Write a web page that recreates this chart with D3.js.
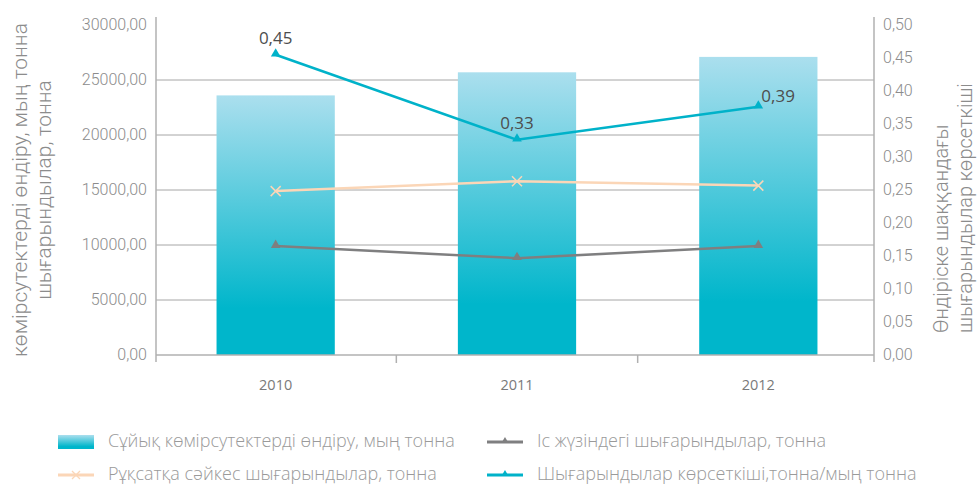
<!DOCTYPE html>
<html>
<head>
<meta charset="utf-8">
<script src="https://cdn.jsdelivr.net/npm/d3@7"></script>
<style>
  body { margin: 0; background: #fff; }
  svg { display: block; }
</style>
</head>
<body>
<div id="chart"></div>
<script>
// chart values
var years = ["2010", "2011", "2012"];
var production = [23600, 25700, 27100];      // Сұйық көмірсутектерді өндіру, мың тонна
var permitted = [14900, 15800, 15400];       // Рұқсатқа сәйкес шығарындылар, тонна
var actual = [9900, 8800, 9900];             // Іс жүзіндегі шығарындылар, тонна
var intensity = [0.455, 0.326, 0.376];       // Шығарындылар көрсеткіші
var intensityLabels = ["0,45", "0,33", "0,39"];
var leftTicks = [0, 5000, 10000, 15000, 20000, 25000, 30000];
var rightTicks = [0, 0.05, 0.1, 0.15, 0.2, 0.25, 0.3, 0.35, 0.4, 0.45, 0.5];
var legendNames = [
  "Сұйық көмірсутектерді өндіру, мың тонна",
  "Іс жүзіндегі шығарындылар, тонна",
  "Рұқсатқа сәйкес шығарындылар, тонна",
  "Шығарындылар көрсеткіші,тонна/мың тонна"
];

var width = 979, height = 485;
var plotLeft = 156, plotRight = 874, plotTop = 25, plotBottom = 355;

var svg = d3.select("#chart").append("svg")
    .attr("width", width).attr("height", height);

var defs = svg.append("defs");
var grad = defs.append("linearGradient").attr("id", "barGrad")
    .attr("x1", 0).attr("y1", 0).attr("x2", 0).attr("y2", 1);
grad.append("stop").attr("offset", "0%").attr("stop-color", "#abdfee");
grad.append("stop").attr("offset", "82%").attr("stop-color", "#00b6cb");
grad.append("stop").attr("offset", "100%").attr("stop-color", "#00b6cb");

var x = d3.scaleBand().domain(years).range([155, 879]).paddingInner(0.51).paddingOuter(0.255);
var yL = d3.scaleLinear().domain([0, 30000]).range([plotBottom, plotTop]);
var yR = d3.scaleLinear().domain([0, 0.5]).range([plotBottom, plotTop]);
var cx = function(d) { return x(d) + x.bandwidth() / 2; };

var fmt = function(v, n) { return d3.format("." + n + "f")(v).replace(".", ","); };

// gridlines
svg.append("g").selectAll("line")
    .data(leftTicks.filter(function(d) { return d > 0 && d < 30000; }))
    .enter().append("line")
    .attr("x1", plotLeft).attr("x2", plotRight)
    .attr("y1", function(d) { return yL(d); }).attr("y2", function(d) { return yL(d); })
    .attr("stroke", "#a6a6a6").attr("stroke-width", 1);

// bars
svg.append("g").selectAll("rect")
    .data(production)
    .enter().append("rect")
    .attr("x", function(d, i) { return x(years[i]); })
    .attr("width", x.bandwidth())
    .attr("y", function(d) { return yL(d); })
    .attr("height", function(d) { return plotBottom - yL(d); })
    .attr("fill", "url(#barGrad)");

// axes lines
var axisColor = "#b0b0b0";
svg.append("line").attr("x1", plotLeft).attr("x2", plotLeft).attr("y1", 17).attr("y2", 362)
    .attr("stroke", axisColor).attr("stroke-width", 1.5);
svg.append("line").attr("x1", plotRight).attr("x2", plotRight).attr("y1", 17).attr("y2", 362)
    .attr("stroke", axisColor).attr("stroke-width", 1.5);
svg.append("line").attr("x1", plotLeft).attr("x2", plotRight).attr("y1", plotBottom).attr("y2", plotBottom)
    .attr("stroke", axisColor).attr("stroke-width", 1.5);
// category separators
svg.append("g").selectAll("line")
    .data(years.slice(1))
    .enter().append("line")
    .attr("x1", function(d) { return x(d) - x.step() * x.paddingInner() / 2; })
    .attr("x2", function(d) { return x(d) - x.step() * x.paddingInner() / 2; })
    .attr("y1", plotBottom).attr("y2", 363)
    .attr("stroke", axisColor).attr("stroke-width", 1.5);

// tick labels
var tickFont = "Roboto, 'Liberation Sans', sans-serif";
svg.append("g").selectAll("text")
    .data(leftTicks).enter().append("text")
    .attr("x", plotLeft - 9).attr("y", function(d) { return yL(d) + 5; })
    .attr("text-anchor", "end")
    .attr("font-family", tickFont).attr("font-weight", 300).attr("font-size", 16)
    .attr("fill", "#8c8c8c")
    .text(function(d) { return fmt(d, 2); });

svg.append("g").selectAll("text")
    .data(rightTicks).enter().append("text")
    .attr("x", plotRight + 9).attr("y", function(d) { return yR(d) + 5; })
    .attr("text-anchor", "start")
    .attr("font-family", tickFont).attr("font-weight", 300).attr("font-size", 16)
    .attr("fill", "#8c8c8c")
    .text(function(d) { return fmt(d, 2); });

svg.append("g").selectAll("text")
    .data(years).enter().append("text")
    .attr("x", cx).attr("y", 390)
    .attr("text-anchor", "middle")
    .attr("font-family", "'Open Sans', sans-serif").attr("font-size", 14.5)
    .attr("fill", "#7a7a7a")
    .text(function(d) { return d; });

// axis titles
var titleFont = "Roboto, 'Noto Sans', sans-serif";
var lt = svg.append("g").attr("transform", "translate(0,190) rotate(-90)");
lt.append("text").attr("x", 0).attr("y", 27).attr("text-anchor", "middle")
    .attr("font-family", titleFont).attr("font-weight", 300).attr("font-size", 21).attr("fill", "#8c8c8c")
    .text("көмірсутектерді өндіру, мың тонна");
lt.append("text").attr("x", 0).attr("y", 51).attr("text-anchor", "middle")
    .attr("font-family", titleFont).attr("font-weight", 300).attr("font-size", 21).attr("fill", "#8c8c8c")
    .text("шығарындылар, тонна");

var rt = svg.append("g").attr("transform", "translate(0,333) rotate(-90)");
rt.append("text").attr("x", 0).attr("y", 948).attr("text-anchor", "start")
    .attr("font-family", titleFont).attr("font-weight", 300).attr("font-size", 20).attr("fill", "#8c8c8c")
    .text("Өндіріске шаққандағы");
rt.append("text").attr("x", 0).attr("y", 972).attr("text-anchor", "start")
    .attr("font-family", titleFont).attr("font-weight", 300).attr("font-size", 20).attr("fill", "#8c8c8c")
    .text("шығарындылар көрсеткіші");

// line series
var triangle = d3.symbol().type(d3.symbolTriangle).size(40);

function drawLine(values, yScale, color, strokeW, marker) {
    var pts = values.map(function(v, i) { return [cx(years[i]), yScale(v)]; });
    svg.append("path")
        .attr("d", d3.line()(pts))
        .attr("fill", "none").attr("stroke", color).attr("stroke-width", strokeW);
    var g = svg.append("g");
    pts.forEach(function(p) {
        if (marker === "tri") {
            g.append("path").attr("d", triangle)
                .attr("transform", "translate(" + p[0] + "," + (p[1] - 1) + ")")
                .attr("fill", color);
        } else {
            g.append("path")
                .attr("d", "M-5,-5L5,5M-5,5L5,-5")
                .attr("transform", "translate(" + p[0] + "," + p[1] + ")")
                .attr("stroke", color).attr("stroke-width", 1.5).attr("fill", "none");
        }
    });
    return pts;
}

drawLine(permitted, yL, "#fbd6b7", 2.5, "x");
drawLine(actual, yL, "#7f7f80", 2.5, "tri");
var ipts = drawLine(intensity, yR, "#00b2c9", 2.5, "tri");

// data labels
svg.append("g").selectAll("text")
    .data(intensityLabels).enter().append("text")
    .attr("x", function(d, i) { return i === 2 ? ipts[i][0] + 3 : ipts[i][0]; })
    .attr("y", function(d, i) { return i === 2 ? ipts[i][1] - 5 : ipts[i][1] - 11; })
    .attr("text-anchor", function(d, i) { return i === 2 ? "start" : "middle"; })
    .attr("font-family", "'Open Sans', sans-serif").attr("font-size", 17)
    .attr("fill", "#4d4d4d")
    .text(function(d) { return d; });

// legend
var legendFont = "'Open Sans', sans-serif";
var legendItems = [
  { name: legendNames[0], x: 58, y: 442, kind: "bar" },
  { name: legendNames[1], x: 487, y: 442, kind: "tri", color: "#7f7f80" },
  { name: legendNames[2], x: 58, y: 475, kind: "x", color: "#fbd6b7" },
  { name: legendNames[3], x: 487, y: 475, kind: "tri", color: "#00b2c9" }
];
var lg = svg.append("g").selectAll("g").data(legendItems).enter().append("g")
    .attr("transform", function(d) { return "translate(" + d.x + "," + d.y + ")"; });
lg.each(function(d) {
    var g = d3.select(this);
    if (d.kind === "bar") {
        g.append("rect").attr("x", 0).attr("y", -7).attr("width", 36).attr("height", 14)
            .attr("fill", "url(#barGrad)");
    } else {
        g.append("line").attr("x1", 0).attr("x2", 36).attr("y1", 0).attr("y2", 0)
            .attr("stroke", d.color).attr("stroke-width", 3);
        if (d.kind === "tri") {
            g.append("path").attr("d", d3.symbol().type(d3.symbolTriangle).size(22))
                .attr("transform", "translate(18,-1)").attr("fill", d.color);
        } else {
            g.append("path").attr("d", "M-4,-4L4,4M-4,4L4,-4")
                .attr("transform", "translate(18,0)")
                .attr("stroke", d.color).attr("stroke-width", 1.3);
        }
    }
    g.append("text").attr("x", 50).attr("y", 5)
        .attr("font-family", legendFont).attr("font-weight", 300).attr("font-size", 18)
        .attr("fill", "#9a9a9a")
        .text(d.name);
});
</script>
</body>
</html>
